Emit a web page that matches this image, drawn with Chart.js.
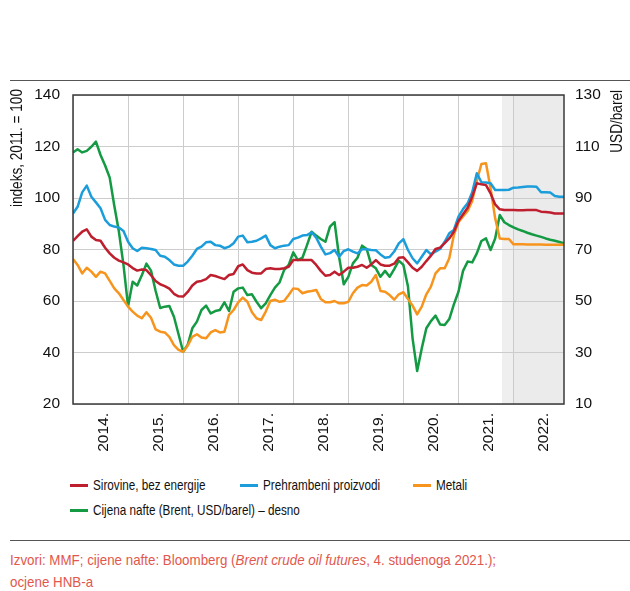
<!DOCTYPE html>
<html>
<head>
<meta charset="utf-8">
<script src="https://cdn.jsdelivr.net/npm/chart.js@4.4.1/dist/chart.umd.min.js"></script>
<style>
  body { margin: 0; background: #fff; }
  #wrap { position: relative; width: 630px; height: 591px; background: #fff; overflow: hidden;
          font-family: "Liberation Sans", Arial, sans-serif; color: #111; }
  .rule { position: absolute; left: 10px; right: 0; height: 1px; background: #555; }
  #chart { position: absolute; left: 0; top: 0; }
  #legend { position: absolute; left: 70px; top: 472px; display: grid;
            grid-template-columns: 170px 173px auto; font-size: 15px; line-height: 25px; }
  #legend .item { white-space: nowrap; }
  #legend .swatch { display: inline-block; width: 18px; height: 3px; vertical-align: middle;
                    margin-right: 5px; position: relative; top: -1px; }
  #legend .text { display: inline-block; transform: scaleX(0.78); transform-origin: left center; }
  #source { position: absolute; left: 10px; top: 549px; font-size: 15px; line-height: 22px; color: #e2574c;
            white-space: nowrap; transform: scaleX(0.89); transform-origin: left top; }
</style>
</head>
<body>
<div id="wrap">
  <div class="rule" style="top:80px"></div>
  <canvas id="chart" width="630" height="470"></canvas>
  <div id="legend"></div>
  <div class="rule" style="top:540px"></div>
  <div id="source">Izvori: MMF; cijene nafte: Bloomberg (<i>Brent crude oil futures</i>, 4. studenoga 2021.);<br>ocjene HNB-a</div>
</div>
<script>
// Year labels (Jan 2014 - Dec 2022, monthly points)
const yearLabels = ['2014.', '2015.', '2016.', '2017.', '2018.', '2019.', '2020.', '2021.', '2022.'];

// Sirovine, bez energije (indeks, 2011. = 100)
const sirovine = [
  83.3, 85.2, 86.9, 87.8, 85.0, 83.7, 83.4, 80.7, 78.5, 76.8, 75.7, 75.0,
  74.2, 72.8, 71.8, 72.2, 72.0, 70.0, 67.8, 66.5, 65.8, 64.8, 62.8, 61.8,
  61.7, 63.5, 66.0, 67.5, 67.8, 68.5, 70.1, 69.7, 69.1, 68.5, 70.1, 70.5,
  73.5, 74.2, 72.0, 71.0, 70.7, 70.7, 72.4, 72.7, 72.4, 72.4, 72.7, 73.3,
  75.9, 75.9, 75.9, 75.9, 75.9, 74.0, 71.7, 69.8, 70.1, 71.4, 70.1, 71.4,
  72.9, 72.9, 73.3, 74.0, 72.9, 74.2, 75.9, 74.2, 73.7, 73.7, 74.5, 76.8,
  77.0, 75.0, 72.9, 71.7, 73.3, 75.5, 77.6, 80.2, 80.7, 82.5, 84.3, 86.9,
  91.1, 93.7, 96.2, 100.5, 105.7, 105.3, 105.0, 101.8, 97.5, 95.6, 95.3, 95.3,
  95.3, 95.2, 95.2, 95.3, 95.3, 95.3, 94.7, 94.6, 94.4, 94.0, 94.0, 94.0
];

// Prehrambeni proizvodi
const prehrambeni = [
  94.0, 96.6, 102.2, 104.8, 100.5, 98.3, 96.0, 91.5, 89.5, 88.9, 88.5, 87.2,
  83.0, 80.5, 79.4, 80.7, 80.5, 80.2, 79.8, 77.6, 77.2, 75.9, 74.2, 73.7,
  73.7, 75.3, 77.6, 80.2, 81.1, 82.8, 83.0, 81.7, 81.5, 80.5, 81.1, 82.4,
  85.0, 85.4, 82.8, 83.0, 83.4, 84.3, 85.4, 81.7, 80.5, 81.1, 81.5, 81.7,
  84.1, 84.6, 85.4, 85.6, 86.7, 84.6, 81.1, 78.1, 78.6, 79.8, 77.2, 79.4,
  80.1, 79.2, 78.5, 80.1, 80.1, 79.8, 79.7, 78.1, 76.8, 77.1, 79.2, 82.4,
  84.0, 79.8, 76.6, 74.6, 77.2, 79.8, 78.1, 79.2, 80.2, 83.0, 86.3, 87.6,
  92.8, 95.7, 97.9, 102.2, 109.6, 106.1, 106.0, 105.7, 103.1, 103.1, 103.1, 103.2,
  104.0, 104.1, 104.3, 104.5, 104.5, 104.4, 102.2, 102.2, 102.1, 100.8, 100.5, 100.5
];

// Metali
const metali = [
  76.3, 74.0, 70.7, 72.9, 71.4, 69.4, 71.4, 70.7, 67.8, 64.9, 63.0, 60.4,
  57.8, 55.9, 54.3, 53.3, 55.6, 53.5, 49.0, 48.1, 47.8, 46.1, 42.9, 41.0,
  40.3, 42.7, 46.1, 47.1, 45.8, 45.5, 47.8, 48.7, 47.8, 48.1, 54.6, 56.5,
  59.5, 61.3, 59.7, 55.6, 53.3, 52.6, 55.9, 60.0, 60.5, 59.7, 60.0, 62.3,
  64.9, 64.7, 63.0, 63.6, 63.9, 64.3, 60.8, 59.5, 59.5, 60.0, 59.1, 59.1,
  59.7, 63.0, 65.2, 66.2, 66.0, 67.5, 70.1, 63.9, 63.6, 62.3, 60.5, 62.6,
  63.4, 60.8, 58.2, 54.8, 57.8, 62.6, 65.6, 70.7, 72.7, 72.7, 76.6, 85.6,
  90.6, 92.8, 95.0, 98.8, 106.6, 113.2, 113.5, 103.8, 92.1, 84.3, 84.1, 84.1,
  82.0, 82.0, 82.0, 81.9, 81.9, 81.9, 81.9, 81.8, 81.8, 81.8, 81.8, 81.8
];

// Cijena nafte (Brent, USD/barel) - right axis
const nafta = [
  107.7, 108.9, 107.7, 108.3, 109.9, 111.9, 106.7, 102.6, 97.9, 87.0, 77.0, 64.0,
  48.0, 57.5, 56.0, 60.0, 64.5, 61.8, 54.0, 47.3, 47.8, 48.1, 43.9, 37.1,
  30.3, 33.0, 39.4, 42.0, 46.5, 48.2, 45.2, 46.1, 46.5, 49.5, 46.1, 53.6,
  54.9, 55.2, 52.3, 52.6, 49.7, 47.2, 49.1, 52.3, 55.2, 57.2, 62.0, 64.0,
  68.9, 65.9, 66.8, 71.7, 76.9, 75.4, 74.1, 73.0, 78.9, 80.6, 67.0, 56.5,
  59.4, 64.6, 66.8, 71.5, 70.2, 64.0, 62.7, 59.4, 61.7, 59.4, 62.4, 65.7,
  64.0, 55.6, 35.5, 22.8, 31.6, 39.4, 42.2, 44.3, 40.9, 40.7, 43.0, 48.7,
  53.6, 61.7, 65.3, 65.0, 68.5, 73.3, 74.3, 69.8, 74.3, 83.4, 80.6, 79.5,
  78.6, 77.8, 77.2, 76.5, 75.9, 75.4, 74.9, 74.3, 73.8, 73.4, 72.9, 72.4
];

// Forecast (shaded) period starts between Oct and Nov 2021
const forecastStart = 93.5;
const leftTitle = 'indeks, 2011. = 100';
const rightTitle = 'USD/barel';

const FONT = '"Liberation Sans", Arial, sans-serif';
const TEXT = '#111';
const GRID = '#cccccc';
const FRAME = '#3a3a3a';

const months = sirovine.map((_, i) => i);

const series = [
    { label: 'Sirovine, bez energije', data: sirovine, color: '#be1e2d', axis: 'y' },
    { label: 'Prehrambeni proizvodi', data: prehrambeni, color: '#1b9ddb', axis: 'y' },
    { label: 'Metali', data: metali, color: '#f7941d', axis: 'y' },
    { label: 'Cijena nafte (Brent, USD/barel) \u2013 desno', data: nafta, color: '#139a43', axis: 'y1' },
];

// Grey background for the projection period
const shadePlugin = {
    id: 'shade',
    beforeDraw(chart) {
        const { ctx, chartArea, scales } = chart;
        const x0 = scales.x.getPixelForValue(forecastStart);
        const x1 = scales.x.getPixelForValue(96);
        ctx.save();
        ctx.fillStyle = '#efefef';
        ctx.fillRect(x0, chartArea.top, x1 - x0, chartArea.bottom - chartArea.top);
        ctx.fillStyle = '#ebebeb';
        ctx.fillRect(x1, chartArea.top, chartArea.right - x1, chartArea.bottom - chartArea.top);
        ctx.restore();
    }
};

// rotated, slightly condensed title whose end sits just above the plot top
function drawTitle(ctx, text, x, top, lift) {
    const squeeze = 0.85;
    ctx.save();
    ctx.fillStyle = TEXT;
    ctx.font = '16px ' + FONT;
    ctx.textAlign = 'right';
    ctx.textBaseline = 'middle';
    ctx.translate(x, top);
    ctx.rotate(-Math.PI / 2);
    ctx.scale(squeeze, 1);
    ctx.fillText(text, lift / squeeze, 0);
    ctx.restore();
}

// Box round the plot and the two axis titles
const framePlugin = {
    id: 'frame',
    afterDraw(chart) {
        const { ctx, chartArea } = chart;
        ctx.save();
        ctx.strokeStyle = FRAME;
        ctx.lineWidth = 1.5;
        ctx.strokeRect(chartArea.left, chartArea.top, chartArea.right - chartArea.left, chartArea.bottom - chartArea.top);
        ctx.restore();

        drawTitle(ctx, leftTitle, 18, chartArea.top, 6);
        drawTitle(ctx, rightTitle, 618, chartArea.top, 5);
    }
};

function buildLegend() {
    const legend = document.getElementById('legend');
    series.forEach(s => {
        const item = document.createElement('div');
        item.className = 'item';
        item.innerHTML = '<span class="swatch" style="background:' + s.color + '"></span><span class="text">' + s.label + '</span>';
        legend.appendChild(item);
    });
}

function createChart() {
    const ctx = document.getElementById('chart').getContext('2d');
    Chart.defaults.font.family = FONT;
    Chart.defaults.color = TEXT;

    new Chart(ctx, {
        type: 'line',
        data: {
            labels: months,
            datasets: series.map(s => ({
                label: s.label,
                data: s.data,
                borderColor: s.color,
                backgroundColor: s.color,
                yAxisID: s.axis,
                fill: false,
            }))
        },
        options: {
            responsive: false,
            animation: false,
            layout: { padding: { top: 95, left: 0, right: 0, bottom: 0 } },
            plugins: {
                legend: { display: false },
                tooltip: { enabled: false },
            },
            elements: {
                point: { radius: 0 },
                line: { borderWidth: 2.5, tension: 0, borderJoinStyle: 'round' },
            },
            scales: {
                x: {
                    type: 'linear',
                    min: 0,
                    max: months.length - 1,
                    afterBuildTicks: axis => {
                        // year boundaries for the grid, mid-year for the labels
                        axis.ticks = yearLabels.flatMap((_, i) => [{ value: i * 12 }, { value: i * 12 + 6 }]);
                    },
                    ticks: {
                        autoSkip: false,
                        minRotation: 90,
                        maxRotation: 90,
                        padding: 9,
                        labelOffset: 3,
                        font: { size: 15.5 },
                        callback: v => (v % 12 === 6 ? yearLabels[(v - 6) / 12] : ''),
                    },
                    grid: {
                        color: c => (c.tick && c.tick.value % 12 === 0 ? GRID : 'rgba(0,0,0,0)'),
                        drawTicks: false,
                    },
                    border: { display: false },
                    afterFit: scale => { scale.height = 66; },
                },
                y: {
                    position: 'left',
                    min: 20,
                    max: 140,
                    ticks: { stepSize: 20, padding: 13, font: { size: 15.5 } },
                    grid: { color: GRID, drawTicks: false },
                    border: { display: false },
                    afterFit: scale => { scale.width = 73; },
                },
                y1: {
                    position: 'right',
                    min: 10,
                    max: 130,
                    ticks: { stepSize: 20, padding: 11, font: { size: 15.5 } },
                    grid: { drawOnChartArea: false, drawTicks: false },
                    border: { display: false },
                    afterFit: scale => { scale.width = 66; },
                },
            },
        },
        plugins: [shadePlugin, framePlugin],
    });
}

window.onload = function() {
    buildLegend();
    createChart();
};
</script>
</body>
</html>
